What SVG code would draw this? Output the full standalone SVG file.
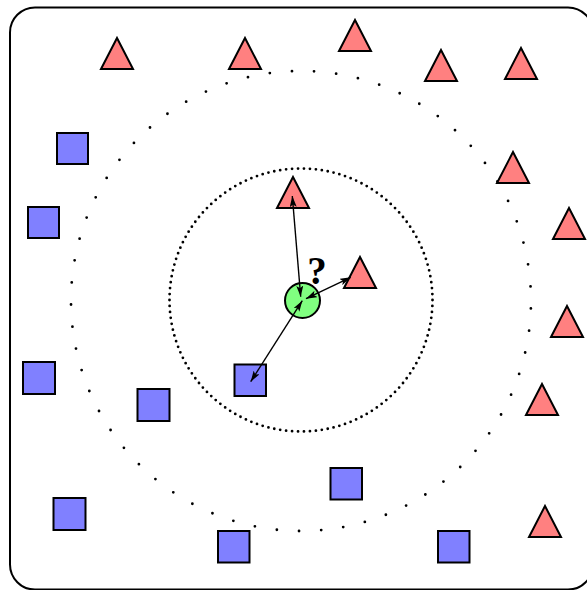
<svg xmlns="http://www.w3.org/2000/svg" width="587" height="590" viewBox="0 0 587 590">
<style>
.tri{fill:#ff8080;stroke:#000;stroke-width:2;stroke-linejoin:miter}
.sq{fill:#8080ff;stroke:#000;stroke-width:2}
.dot{fill:none;stroke:#000;stroke-width:2.8;stroke-linecap:round;stroke-dasharray:0 1}
.arr{fill:none;stroke:#000;stroke-width:1.4;marker-start:url(#ah);marker-end:url(#ah)}
</style>
<defs>
<path id="t" d="M0,0 L16,31 L-16,31 Z"/>
<marker id="ah" viewBox="0 0 11 7" refX="11" refY="3.5" markerWidth="11" markerHeight="7" markerUnits="userSpaceOnUse" orient="auto-start-reverse">
<path d="M0,0 L11,3.5 L0,7 L2.5,3.5 Z" fill="#000"/>
</marker>
</defs>
<rect x="10" y="7.5" width="583" height="582" rx="25" ry="25" fill="#fff" stroke="#000" stroke-width="2"/>
<g id="circles">
<circle cx="301" cy="301" r="230" pathLength="65" class="dot" stroke-dashoffset="-0.34"/>
<circle cx="301" cy="300" r="131.5" pathLength="138" class="dot" stroke-width="2.2"/>
</g>
<g id="triangles">
<use id="t1" href="#t" class="tri" x="117" y="38"/>
<use id="t2" href="#t" class="tri" x="245" y="38"/>
<use id="t3" href="#t" class="tri" x="355" y="20"/>
<use id="t4" href="#t" class="tri" x="441" y="50"/>
<use id="t5" href="#t" class="tri" x="521" y="48"/>
<use id="t6" href="#t" class="tri" x="513" y="152"/>
<use id="t7" href="#t" class="tri" x="569" y="208"/>
<use id="t8" href="#t" class="tri" x="567" y="306"/>
<use id="t9" href="#t" class="tri" x="542" y="384"/>
<use id="t10" href="#t" class="tri" x="545" y="506"/>
<use id="t11" href="#t" class="tri" x="293" y="177"/>
<use id="t12" href="#t" class="tri" x="360" y="257"/>
</g>
<g id="squares">
<rect id="s1" class="sq" x="57" y="133" width="31" height="31"/>
<rect id="s2" class="sq" x="28" y="207" width="31" height="31"/>
<rect id="s3" class="sq" x="23" y="362" width="32" height="32"/>
<rect id="s4" class="sq" x="137.5" y="389" width="32" height="32"/>
<rect id="s5" class="sq" x="234.5" y="364.5" width="31.5" height="31.5"/>
<rect id="s6" class="sq" x="53.5" y="498" width="32" height="32"/>
<rect id="s7" class="sq" x="218" y="531" width="31.5" height="31.5"/>
<rect id="s8" class="sq" x="330.5" y="468" width="31.5" height="31.5"/>
<rect id="s9" class="sq" x="438" y="531" width="31.5" height="31.5"/>
</g>
<g id="query">
<circle cx="302.5" cy="300.5" r="17.5" fill="#80ff80" stroke="#000" stroke-width="2"/>
<text x="317" y="283.5" font-family="Liberation Serif, serif" font-weight="bold" font-size="39" text-anchor="middle">?</text>
</g>
<g id="connectors">
<line class="arr" x1="300.7" y1="296.7" x2="292.3" y2="196"/>
<line class="arr" x1="306" y1="298.7" x2="350.7" y2="277.3"/>
<line class="arr" x1="302.3" y1="300.7" x2="250.7" y2="381.7"/>
</g>
</svg>
